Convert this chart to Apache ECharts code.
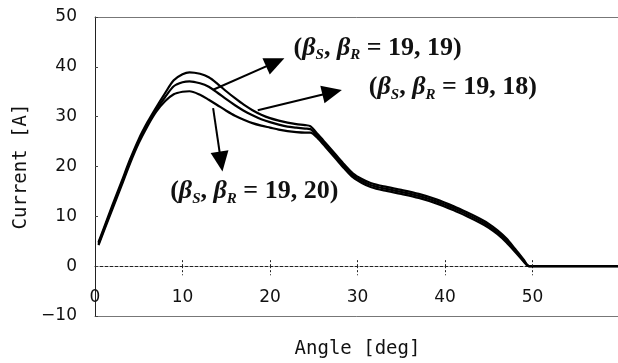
<!DOCTYPE html>
<html>
<head>
<meta charset="utf-8">
<script src="https://cdn.jsdelivr.net/npm/echarts@6/dist/echarts.min.js"></script>
<style>
html,body{margin:0;padding:0;background:#fff;}
#chart{width:618px;height:363px;}
</style>
</head>
<body>
<div id="chart"></div>
<script>
// ---- data ----
const angles = [0.4, 1, 2, 3, 4, 5, 6, 7, 8, 9, 10, 10.8, 12, 13, 14, 15, 16, 17, 18, 19, 20, 21, 22, 23, 24, 24.6,
  25.5, 26.5, 27.5, 28.5, 29.5, 30.5, 31.5, 33, 35, 37, 39, 41, 42.5, 44, 45, 46, 47, 48, 49, 49.6, 52, 55, 58, 60];
const current_19_18 = [4.8, 7.6, 12.3, 16.8, 21.4, 25.5, 28.9, 31.9, 34.7, 37.3, 38.5, 38.9, 38.6, 37.9, 36.6, 35.1, 33.7, 32.4, 31.3, 30.4, 29.7, 29.2, 28.8, 28.5, 28.3, 28.1,
  26.4, 24.4, 22.4, 20.4, 18.6, 17.5, 16.7, 16.0, 15.3, 14.5, 13.4, 12.0, 10.8, 9.5, 8.5, 7.2, 5.6, 3.5, 1.3, 0, 0, 0, 0, 0];
const current_19_19 = [4.5, 7.3, 11.9, 16.4, 21.0, 25.1, 28.5, 31.4, 33.9, 36.1, 36.9, 37.1, 36.7, 36.0, 34.8, 33.5, 32.3, 31.2, 30.3, 29.5, 28.9, 28.4, 28.0, 27.8, 27.6, 27.5,
  26.0, 24.0, 22.0, 20.0, 18.2, 17.1, 16.3, 15.6, 14.9, 14.1, 13.0, 11.6, 10.4, 9.1, 8.1, 6.8, 5.2, 3.2, 1.1, 0, 0, 0, 0, 0];
const current_19_20 = [4.2, 7.0, 11.5, 16.0, 20.6, 24.7, 28.1, 31.0, 33.1, 34.5, 35.0, 35.1, 34.4, 33.4, 32.3, 31.2, 30.2, 29.4, 28.7, 28.2, 27.8, 27.4, 27.1, 26.9, 26.8, 26.8,
  25.6, 23.6, 21.6, 19.6, 17.8, 16.7, 15.9, 15.2, 14.5, 13.7, 12.6, 11.2, 10.0, 8.7, 7.7, 6.4, 4.8, 2.9, 0.9, 0, 0, 0, 0, 0];

const seriesNames = ['19, 18', '19, 19', '19, 20'];
const xTicks = [0, 10, 20, 30, 40, 50];
const yTicks = [-10, 0, 10, 20, 30, 40, 50];

// annotation texts and anchor points (data units)
const labelTexts = ['19, 19', '19, 18', '19, 20'];
const labelAnchors = [[32.3, 43.8], [40.9, 35.9], [18.2, 15.0]];
const arrowTails = [[13.5, 35.4], [18.6, 31.3], [13.5, 31.7]];
const arrowTips = [[20.6, 40.9], [27.1, 34.9], [14.4, 21.0]];

function pairs(ys) { return angles.map((a, i) => [a, ys[i]]); }

const chart = echarts.init(document.getElementById('chart'), null, {renderer: 'canvas'});

const sansMono = '"DejaVu Sans Mono", monospace';
const sans = '"DejaVu Sans", sans-serif';
const serif = '"Liberation Serif", "Times New Roman", serif';

const richStyles = {
  b: {fontFamily: serif, fontSize: 26, fontWeight: 'bold', fontStyle: 'italic', color: '#111', lineHeight: 30},
  s: {fontFamily: serif, fontSize: 15, fontWeight: 'bold', fontStyle: 'italic', color: '#111', lineHeight: 15, verticalAlign: 'bottom'},
  t: {fontFamily: serif, fontSize: 26, fontWeight: 'bold', color: '#111', lineHeight: 30}
};

const allData = [current_19_18, current_19_19, current_19_20];

const series = allData.map((ys, i) => ({
  name: seriesNames[i],
  type: 'line',
  xAxisIndex: 0,
  data: pairs(ys),
  showSymbol: false,
  symbol: 'none',
  smooth: 0.3,
  lineStyle: {color: '#000', width: 2.2},
  silent: true,
  z: 3
}));

// arrows of the annotations
series[0].markLine = {
  silent: true,
  symbol: ['none', 'triangle'],
  symbolSize: [18, 20],
  label: {show: false},
  lineStyle: {color: '#000', width: 2, type: 'solid'},
  animation: false,
  data: arrowTails.map((t, i) => [{coord: t}, {coord: arrowTips[i]}])
};
series[0].markPoint = {
  silent: true,
  symbol: 'circle',
  symbolSize: 0,
  animation: false,
  label: {
    show: true,
    position: 'inside',
    formatter: p => '{t|(}{b|β}{s|S}{t|, }{b|β}{s|R}{t| = ' + p.name + ')}',
    rich: richStyles
  },
  data: labelTexts.map((txt, i) => ({name: txt, coord: labelAnchors[i]}))
};

// upper half of the x tick marks (crossing the zero line)
series[1].markLine = {
  silent: true,
  symbol: ['none', 'none'],
  label: {show: false},
  lineStyle: {color: '#222', width: 1, type: [2, 2]},
  animation: false,
  data: xTicks.filter(v => v > 0).map(v => [{coord: [v, 0]}, {coord: [v, 1.6]}])
};

// plain axes used only as the top and bottom lines of the plot frame
const frameAxis = pos => ({
  type: 'value', min: 0, max: 60, interval: 10, position: pos,
  axisLine: {show: true, onZero: false, lineStyle: {color: '#777', width: 1}},
  axisTick: {show: false}, axisLabel: {show: false}, splitLine: {show: false}
});

const option = {
  animation: false,
  backgroundColor: '#fff',
  grid: {left: 95, right: -2, top: 17, bottom: 47, show: false,
    containLabel: false, outerBoundsMode: 'none'},
  xAxis: [{
    type: 'value', min: 0, max: 60, interval: 10,
    name: 'Angle [deg]', nameLocation: 'middle', nameGap: 24,
    nameTextStyle: {fontFamily: sansMono, fontSize: 19, color: '#111'},
    axisLine: {onZero: true, lineStyle: {color: '#222', width: 1, type: [3, 2]}},
    axisTick: {show: true, inside: false, length: 9, lineStyle: {color: '#222', type: [2, 2]}},
    axisLabel: {margin: -27, fontFamily: sans, fontSize: 17, color: '#111',
      formatter: v => (xTicks.indexOf(v) >= 0 ? String(v) : '')},
    splitLine: {show: false}
  }, frameAxis('top'), frameAxis('bottom')],
  yAxis: {
    type: 'value', min: -10, max: 50, interval: 10,
    name: 'Current [A]', nameLocation: 'middle', nameGap: 64, nameRotate: 90,
    nameTextStyle: {fontFamily: sansMono, fontSize: 19, color: '#111'},
    axisLine: {show: true, onZero: false, lineStyle: {color: '#222', width: 1}},
    axisTick: {show: true, inside: true, length: 3, lineStyle: {color: '#444'}},
    axisLabel: {margin: 18, fontFamily: sans, fontSize: 17, color: '#111',
      formatter: v => (yTicks.indexOf(v) >= 0 ? String(v).replace('-', '\u2212') : '')},
    splitLine: {show: false}
  },
  series: series
};

chart.setOption(option);
</script>
</body>
</html>
